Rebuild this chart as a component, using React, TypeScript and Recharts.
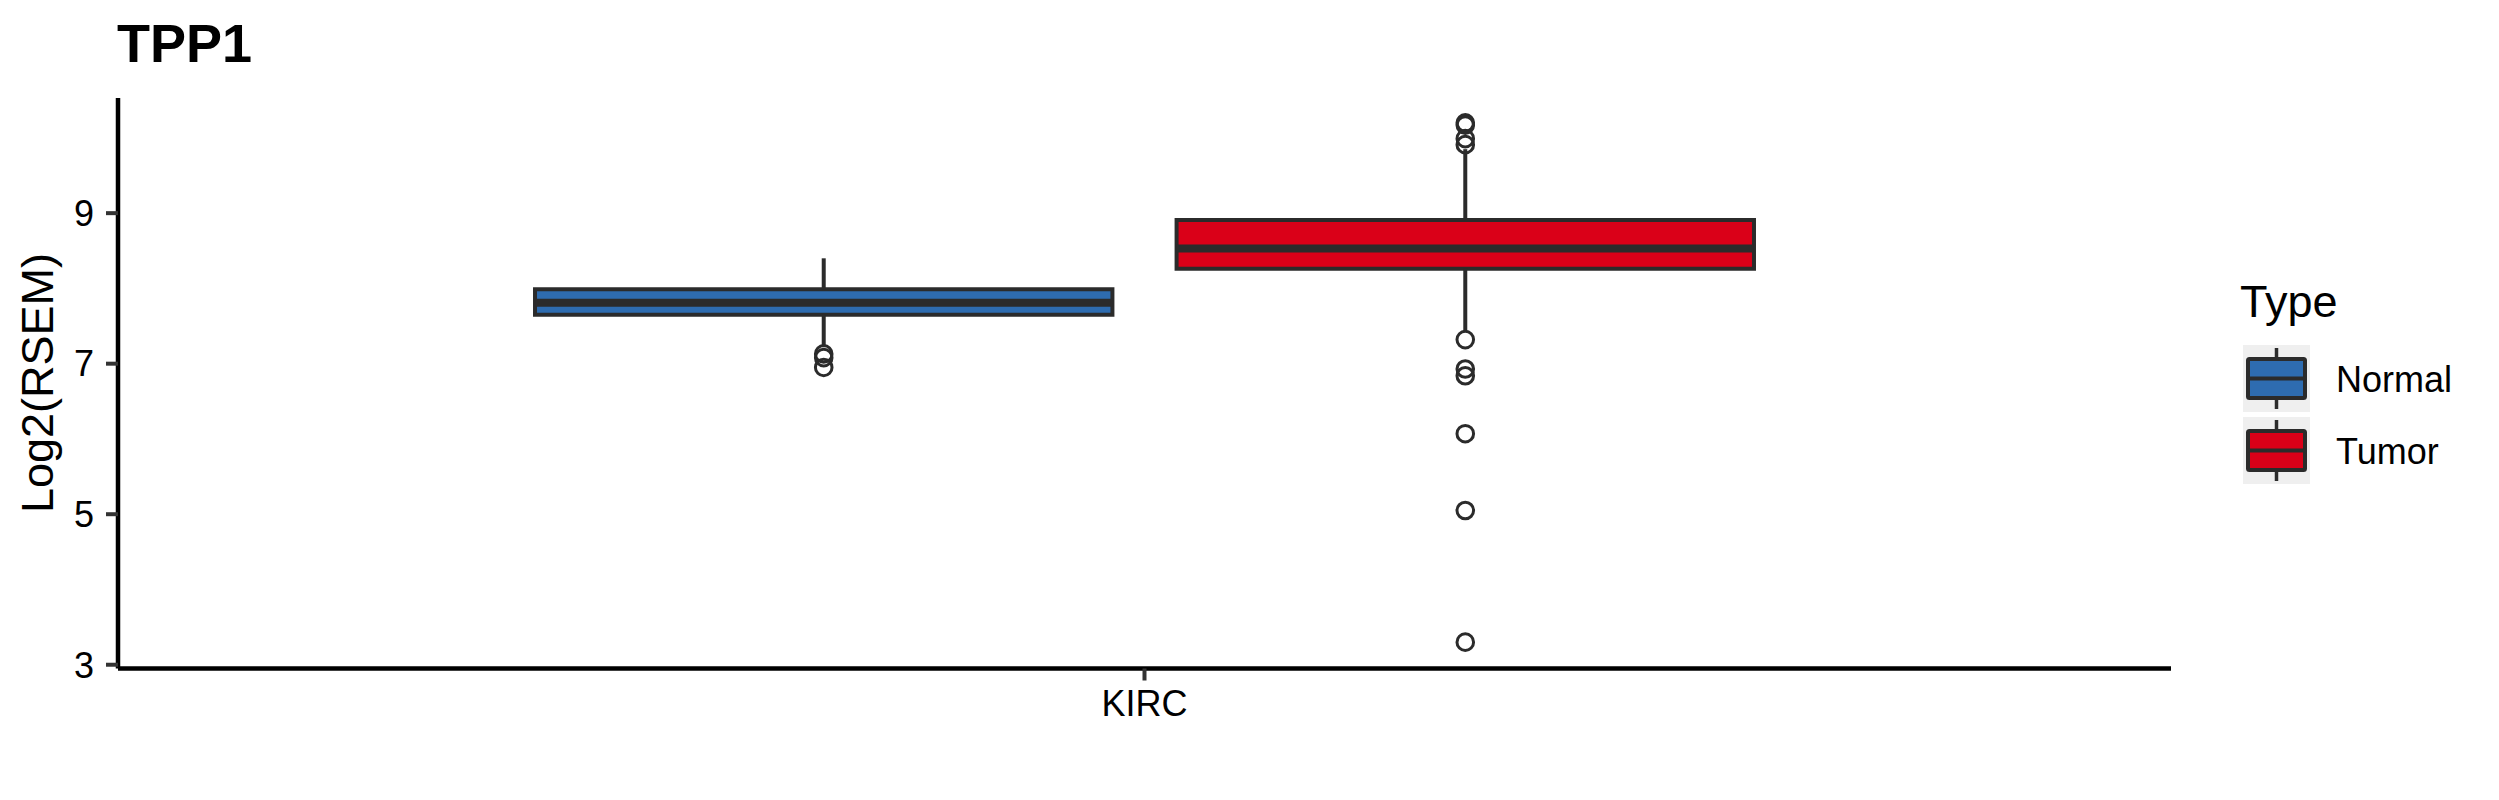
import React from 'react';
import { ComposedChart, XAxis, YAxis, Scatter, ReferenceArea, ReferenceLine } from 'recharts';

const categories = ['KIRC'];
const groups = ['Normal', 'Tumor'];
const groupColors = ['#2E6CB0', '#DA0018'];

// box statistics per group
const lowerWhisker = [7.22, 7.42];
const firstQuartile = [7.65, 8.26];
const medians = [7.81, 8.53];
const thirdQuartile = [7.99, 8.91];
const upperWhisker = [8.4, 9.85];

const normalOutliers = [7.13, 7.08, 6.95];
const tumorOutliers = [10.2, 10.17, 9.99, 9.91, 7.32, 6.93, 6.84, 6.07, 5.05, 3.3];
const outliers = [normalOutliers, tumorOutliers];

const yTicks = [3, 5, 7, 9];

const FONT = '"Liberation Sans", Arial, Helvetica, sans-serif';
const LINE = '#2B2B2B';
const DODGE = 0.75;
const BOX_WIDTH = 0.9 * (DODGE / groups.length);

const groupPos = (catIndex: number, g: number) =>
  catIndex + 1 + (g - (groups.length - 1) / 2) * (DODGE / groups.length);

const Hollow = (props: any) => {
  const { cx, cy } = props;
  if (cx == null || cy == null) return null;
  return <circle cx={cx} cy={cy} r={8.3} fill="none" stroke={LINE} strokeWidth={3} />;
};

const LegendKey = ({ x, y, color }: { x: number; y: number; color: string }) => (
  <g>
    <rect x={x} y={y} width={67} height={67} fill="#EFEFEF" />
    <line x1={x + 33.5} x2={x + 33.5} y1={y + 3} y2={y + 64} stroke={LINE} strokeWidth={3.5} />
    <rect x={x + 5} y={y + 14} width={57} height={39} fill={color} stroke={LINE} strokeWidth={4} rx={1.5} />
    <line x1={x + 5} x2={x + 62} y1={y + 33.5} y2={y + 33.5} stroke={LINE} strokeWidth={4} />
  </g>
);

const App: React.FC = () => {
  return (
    <div style={{ position: 'absolute', left: 0, top: 0, width: 2499, height: 800, background: '#fff', fontFamily: FONT }}>
      <ComposedChart width={2499} height={800} margin={{ top: 98, right: 328, bottom: 71.5, left: 0 }}>
        <XAxis
          type="number"
          dataKey="x"
          domain={[0.4, 1.6]}
          ticks={categories.map((_, i) => i + 1)}
          tickFormatter={(v: number) => categories[Math.round(v) - 1] ?? ''}
          allowDataOverflow
          height={60}
          axisLine={{ stroke: '#000', strokeWidth: 4.5 }}
          tickLine={{ stroke: '#333', strokeWidth: 4 }}
          tickSize={12}
          tickMargin={10}
          tick={{ fontSize: 36, fill: '#000', fontFamily: FONT }}
        />
        <YAxis
          type="number"
          dataKey="y"
          domain={[2.95, 10.53]}
          ticks={yTicks}
          allowDataOverflow
          width={118}
          axisLine={{ stroke: '#000', strokeWidth: 4.5 }}
          tickLine={{ stroke: '#333', strokeWidth: 4 }}
          tickSize={12}
          tickMargin={12}
          tick={{ fontSize: 36, fill: '#000', fontFamily: FONT }}
        />

        {/* whiskers */}
        {categories.flatMap((_, c) =>
          groups.map((g, i) => {
            const px = groupPos(c, i);
            return (
              <ReferenceLine
                key={`wu-${g}`}
                segment={[{ x: px, y: thirdQuartile[i] }, { x: px, y: upperWhisker[i] }]}
                stroke={LINE}
                strokeWidth={4}
              />
            );
          })
        )}
        {categories.flatMap((_, c) =>
          groups.map((g, i) => {
            const px = groupPos(c, i);
            return (
              <ReferenceLine
                key={`wl-${g}`}
                segment={[{ x: px, y: firstQuartile[i] }, { x: px, y: lowerWhisker[i] }]}
                stroke={LINE}
                strokeWidth={4}
              />
            );
          })
        )}

        {/* boxes */}
        {categories.flatMap((_, c) =>
          groups.map((g, i) => {
            const px = groupPos(c, i);
            return (
              <ReferenceArea
                key={`box-${g}`}
                x1={px - BOX_WIDTH / 2}
                x2={px + BOX_WIDTH / 2}
                y1={firstQuartile[i]}
                y2={thirdQuartile[i]}
                fill={groupColors[i]}
                fillOpacity={1}
                stroke={LINE}
                strokeWidth={4}
              />
            );
          })
        )}

        {/* medians */}
        {categories.flatMap((_, c) =>
          groups.map((g, i) => {
            const px = groupPos(c, i);
            return (
              <ReferenceLine
                key={`med-${g}`}
                segment={[{ x: px - BOX_WIDTH / 2, y: medians[i] }, { x: px + BOX_WIDTH / 2, y: medians[i] }]}
                stroke={LINE}
                strokeWidth={8}
              />
            );
          })
        )}

        {/* outliers */}
        {groups.map((g, i) => (
          <Scatter
            key={`out-${g}`}
            name={g}
            data={outliers[i].map((v) => ({ x: groupPos(0, i), y: v }))}
            shape={Hollow}
            isAnimationActive={false}
          />
        ))}
      </ComposedChart>

      <svg
        width={2499}
        height={800}
        style={{ position: 'absolute', left: 0, top: 0, pointerEvents: 'none' }}
        fontFamily={FONT}
      >
        <text x={117} y={62} fontSize={54} fontWeight="bold" fill="#000">
          TPP1
        </text>
        <text transform="translate(53,383) rotate(-90)" textAnchor="middle" fontSize={45} fill="#000">
          Log2(RSEM)
        </text>

        <text x={2240} y={317} fontSize={45} fill="#000">
          Type
        </text>
        {groups.map((g, i) => (
          <g key={`leg-${g}`}>
            <LegendKey x={2243} y={345 + i * 72} color={groupColors[i]} />
            <text x={2336} y={392 + i * 72} fontSize={36} fill="#000">
              {g}
            </text>
          </g>
        ))}
      </svg>
    </div>
  );
};

export default App;
